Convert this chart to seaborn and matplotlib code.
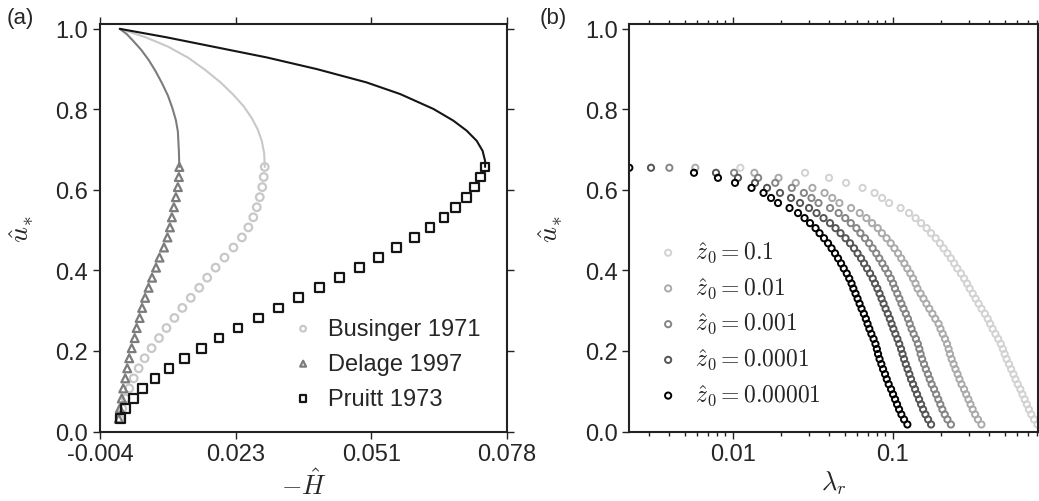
import seaborn as sns
import matplotlib.pyplot as plt
from matplotlib.ticker import FixedLocator, FixedFormatter, LogLocator, NullFormatter

sns.set_style("ticks")
plt.rcParams['font.family'] = ['Liberation Sans', 'DejaVu Sans']
plt.rcParams['mathtext.fontset'] = 'cm'
plt.rcParams['axes.unicode_minus'] = False

# ---- panel (a): -H vs u*, marker branch (shared u* levels)
u_a = [0.032, 0.057, 0.082, 0.107, 0.132, 0.157, 0.182, 0.207, 0.232, 0.257,
       0.282, 0.307, 0.332, 0.357, 0.382, 0.407, 0.432, 0.457, 0.482, 0.507,
       0.532, 0.557, 0.582, 0.607, 0.632, 0.657]
businger_H = [0.0000, 0.0005, 0.0012, 0.0019, 0.0028, 0.0038, 0.0050, 0.0064, 0.0079, 0.0094,
              0.0110, 0.0126, 0.0143, 0.0160, 0.0176, 0.0193, 0.0211, 0.0229, 0.0246, 0.0259,
              0.0269, 0.0276, 0.0282, 0.0287, 0.0290, 0.0292]
delage_H = [-0.0002, 0.0000, 0.0004, 0.0007, 0.0011, 0.0015, 0.0019, 0.0024, 0.0030, 0.0034,
            0.0040, 0.0045, 0.0051, 0.0058, 0.0065, 0.0073, 0.0080, 0.0089, 0.0096, 0.0101,
            0.0105, 0.0109, 0.0113, 0.0117, 0.0119, 0.0120]
pruitt_H = [0.0002, 0.0012, 0.0027, 0.0046, 0.0071, 0.0099, 0.0131, 0.0165, 0.0200, 0.0238,
            0.0279, 0.0319, 0.0360, 0.0402, 0.0442, 0.0483, 0.0522, 0.0558, 0.0593, 0.0625,
            0.0653, 0.0677, 0.0699, 0.0715, 0.0726, 0.0736]

# upper branch drawn as lines
businger_line_H = [0.0, 0.0050, 0.0097, 0.0138, 0.0172, 0.0203, 0.0229, 0.0250, 0.0266, 0.0278, 0.0286, 0.0291, 0.0292]
businger_line_u = [1.0, 0.980, 0.956, 0.928, 0.898, 0.867, 0.836, 0.807, 0.778, 0.750, 0.722, 0.690, 0.657]
delage_line_H = [0.0, 0.0014, 0.0027, 0.0043, 0.0058, 0.0072, 0.0085, 0.0097, 0.0106, 0.0113, 0.0117, 0.0119, 0.0120]
delage_line_u = [1.0, 0.987, 0.970, 0.948, 0.923, 0.895, 0.865, 0.834, 0.803, 0.773, 0.745, 0.697, 0.657]
pruitt_line_H = [0.0, 0.0094, 0.0195, 0.0296, 0.0397, 0.0497, 0.0565, 0.0632, 0.0672, 0.0699, 0.0719, 0.0731, 0.0736, 0.0736]
pruitt_line_u = [1.0, 0.979, 0.954, 0.929, 0.900, 0.867, 0.838, 0.801, 0.772, 0.747, 0.722, 0.697, 0.672, 0.657]

# ---- panel (b): lambda_r vs u* for several z0
u_b = [0.655, 0.6425, 0.63, 0.6175, 0.605, 0.5925, 0.58, 0.5675, 0.555, 0.5425,
       0.53, 0.5175, 0.505, 0.4925, 0.48, 0.4675, 0.455, 0.4425, 0.43, 0.4175,
       0.405, 0.3925, 0.38, 0.3675, 0.355, 0.3425, 0.33, 0.3175, 0.305, 0.2925,
       0.28, 0.2675, 0.255, 0.2425, 0.23, 0.2175, 0.205, 0.1925, 0.18, 0.1675,
       0.155, 0.1425, 0.13, 0.1175, 0.105, 0.0925, 0.08, 0.0675, 0.055, 0.0425,
       0.03, 0.0175]
lam_z1e1 = [0.01117, 0.02831, 0.03997, 0.05109, 0.06478, 0.07698, 0.08578, 0.09482, 0.1119, 0.1264,
            0.1389, 0.1503, 0.1627, 0.1733, 0.1856, 0.1971, 0.2077, 0.2197, 0.2307, 0.2419,
            0.2530, 0.2667, 0.2791, 0.2913, 0.3024, 0.3161, 0.3292, 0.3436, 0.3587, 0.3763,
            0.3918, 0.4057, 0.4206, 0.4378, 0.4559, 0.4732, 0.4877, 0.5001, 0.5143, 0.5321,
            0.5488, 0.5675, 0.5843, 0.6035, 0.6265, 0.6456, 0.6669, 0.6879, 0.7085, 0.7335,
            0.7632, 0.8014]
lam_z1e2 = [0.00584, 0.01366, 0.01933, 0.02477, 0.03148, 0.03750, 0.04188, 0.04640, 0.05490, 0.06217,
            0.06846, 0.07423, 0.08056, 0.08552, 0.09145, 0.0971, 0.1024, 0.1079, 0.1129, 0.1181,
            0.1232, 0.1288, 0.1339, 0.1387, 0.1427, 0.1492, 0.1556, 0.1622, 0.1691, 0.1769,
            0.1844, 0.1932, 0.1987, 0.2051, 0.2121, 0.2184, 0.2234, 0.2277, 0.2333, 0.2399,
            0.2464, 0.2541, 0.2610, 0.2689, 0.2789, 0.2875, 0.2968, 0.3060, 0.3157, 0.3270,
            0.3405, 0.3580]
lam_z1e3 = [0.00402, 0.01020, 0.01442, 0.01844, 0.02340, 0.02784, 0.03106, 0.03437, 0.04059, 0.04591,
            0.05049, 0.05468, 0.05927, 0.06280, 0.06707, 0.07114, 0.07490, 0.07885, 0.08237, 0.08611,
            0.08963, 0.09367, 0.09721, 0.1005, 0.1033, 0.1067, 0.1100, 0.1133, 0.1167, 0.1207,
            0.1244, 0.1276, 0.1311, 0.1350, 0.1395, 0.1435, 0.1466, 0.1493, 0.1526, 0.1568,
            0.1609, 0.1658, 0.1701, 0.1749, 0.1812, 0.1866, 0.1924, 0.1982, 0.2041, 0.2112,
            0.2197, 0.2308]
lam_z1e4 = [0.003087, 0.007862, 0.01079, 0.01378, 0.01639, 0.01975, 0.02314, 0.02634, 0.02998, 0.03341,
            0.03694, 0.04056, 0.04390, 0.04718, 0.05070, 0.05408, 0.05729, 0.06026, 0.06337, 0.06616,
            0.06908, 0.07212, 0.07499, 0.07752, 0.08013, 0.08269, 0.08511, 0.08760, 0.09016, 0.09307,
            0.09579, 0.09829, 0.1009, 0.1038, 0.1069, 0.1098, 0.1127, 0.1151, 0.1176, 0.1206,
            0.1237, 0.1270, 0.1301, 0.1339, 0.1378, 0.1418, 0.1460, 0.1503, 0.1547, 0.1599,
            0.1662, 0.1735]
lam_z1e5 = [0.00226, 0.00573, 0.00809, 0.01034, 0.01311, 0.01558, 0.01736, 0.01919, 0.02265, 0.02559,
            0.02811, 0.03041, 0.03293, 0.03487, 0.03720, 0.03941, 0.04145, 0.04359, 0.04551, 0.04752,
            0.04941, 0.05158, 0.05347, 0.05527, 0.05673, 0.05854, 0.06026, 0.06202, 0.06383, 0.06598,
            0.06790, 0.06958, 0.07141, 0.07350, 0.07586, 0.07796, 0.07954, 0.08092, 0.08269, 0.08487,
            0.08697, 0.08951, 0.09173, 0.09428, 0.09759, 0.1004, 0.1034, 0.1064, 0.1095, 0.1132,
            0.1176, 0.1234]
z0_labels = ['0.1', '0.01', '0.001', '0.0001', '0.00001']
z0_colors = ['#d2d2d2', '#aaaaaa', '#858585', '#555555', '#000000']

fig = plt.figure(figsize=(10.39, 5.02), dpi=100)
ax_a = fig.add_axes([0.0962, 0.1384, 0.3917, 0.8118])
ax_b = fig.add_axes([0.6057, 0.1384, 0.3931, 0.8118])


def style_axis(ax):
    ax.tick_params(which='both', direction='out', top=True, right=True,
                   labelsize=17, width=1.0, color='#222222')
    ax.tick_params(which='major', length=5)
    ax.tick_params(which='minor', length=3)
    for sp in ax.spines.values():
        sp.set_linewidth(1.5)
        sp.set_color('#222222')
        sp.set_visible(True)


# panel (a)
a_series = [
    ('Businger 1971', businger_line_H, businger_line_u, businger_H, '#c8c8c8', 'o', 30),
    ('Delage 1997', delage_line_H, delage_line_u, delage_H, '#7c7c7c', '^', 32),
    ('Pruitt 1973', pruitt_line_H, pruitt_line_u, pruitt_H, '#151515', 's', 40),
]
for name, lx, ly, mx, col, mk, size in a_series:
    sns.lineplot(x=lx, y=ly, sort=False, estimator=None, color=col, lw=1.5, ax=ax_a)
for name, lx, ly, mx, col, mk, size in a_series:
    sns.scatterplot(x=mx, y=u_a, marker=mk, s=size, facecolor='none', edgecolor=col,
                    linewidth=1.6, ax=ax_a, label=name)

ax_a.set_xlim(-0.004, 0.078)
ax_a.set_ylim(0, 1.012)
xt = [-0.004, 0.023333, 0.050667, 0.078]
ax_a.xaxis.set_major_locator(FixedLocator(xt))
ax_a.xaxis.set_major_formatter(FixedFormatter(['-0.004', '0.023', '0.051', '0.078']))
ax_a.set_yticks([0.0, 0.2, 0.4, 0.6, 0.8, 1.0])
ax_a.set_yticklabels(['0.0', '0.2', '0.4', '0.6', '0.8', '1.0'])
ax_a.set_xlabel(r'$-\hat{H}$', fontsize=19, labelpad=2)
ax_a.set_ylabel(r'$\hat{u}_{*}$', fontsize=20, labelpad=14)
style_axis(ax_a)
ax_a.legend(loc='lower left', bbox_to_anchor=(0.447, 0.03), frameon=False, fontsize=17,
            handlelength=1.0, handletextpad=0.55, labelspacing=0.55, markerscale=0.75,
            borderaxespad=0)

# panel (b)
b_series = [lam_z1e1, lam_z1e2, lam_z1e3, lam_z1e4, lam_z1e5]
for lam, lab, col in zip(b_series, z0_labels, z0_colors):
    sns.scatterplot(x=lam, y=u_b, marker='o', s=20, facecolor='none', edgecolor=col,
                    linewidth=1.4, ax=ax_b, label=r'$\hat{z}_0 = ' + lab + '$')

ax_b.set_xscale('log')
ax_b.set_xlim(0.00226, 0.805)
ax_b.set_ylim(0, 1.012)
ax_b.xaxis.set_major_locator(FixedLocator([0.01, 0.1]))
ax_b.xaxis.set_major_formatter(FixedFormatter(['0.01', '0.1']))
ax_b.xaxis.set_minor_locator(LogLocator(base=10, subs=range(2, 10)))
ax_b.xaxis.set_minor_formatter(NullFormatter())
ax_b.set_yticks([0.0, 0.2, 0.4, 0.6, 0.8, 1.0])
ax_b.set_yticklabels(['0.0', '0.2', '0.4', '0.6', '0.8', '1.0'])
ax_b.set_xlabel(r'$\lambda_r$', fontsize=19, labelpad=2)
ax_b.set_ylabel(r'$\hat{u}_{*}$', fontsize=20, labelpad=14)
style_axis(ax_b)
ax_b.legend(loc='lower left', bbox_to_anchor=(0.043, 0.035), frameon=False, fontsize=17,
            handlelength=1.0, handletextpad=0.64, labelspacing=0.45, markerscale=1.0,
            borderaxespad=0)

fig.text(0.006, 0.985, '(a)', fontsize=16, va='top', ha='left')
fig.text(0.519, 0.985, '(b)', fontsize=16, va='top', ha='left')

fig.savefig('out.png', dpi=100)
